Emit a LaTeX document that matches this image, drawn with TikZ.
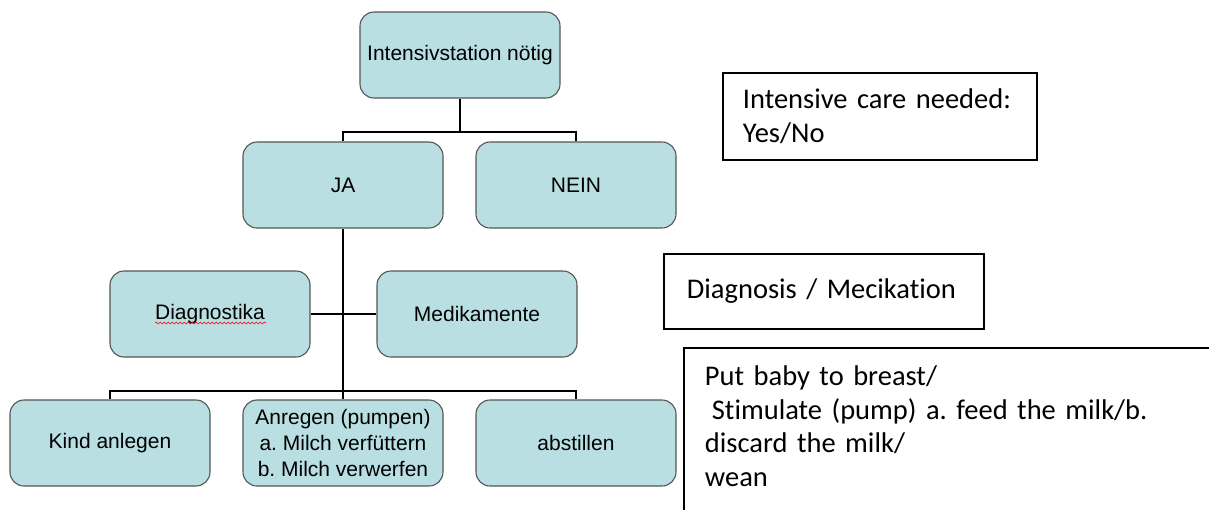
\documentclass[tikz,border=0pt]{standalone}
\usepackage{fontspec}
\setmainfont{Liberation Sans}
\newfontfamily\notefont[Ligatures=NoCommon]{Carlito}
\usepackage{tikz}
\usetikzlibrary{decorations.pathmorphing}
\definecolor{boxfill}{RGB}{185,223,226}
\definecolor{boxline}{RGB}{85,85,85}
\frenchspacing
\tikzset{
  treenode/.style = {shape=rectangle, rounded corners=14pt,
                     draw=boxline, line width=1.1pt, fill=boxfill,
                     minimum width=200pt, minimum height=86pt,
                     align=center, inner sep=2pt,
                     font=\fontsize{21}{26}\selectfont},
  notebox/.style = {shape=rectangle, draw=black, line width=1.8pt,
                    anchor=north west, align=left,
                    font=\notefont\fontsize{28.5}{33.5}\selectfont},
  link/.style = {line width=2.6pt, black},
  squiggle/.style = {red, line width=0.6pt, decorate,
                     decoration={snake, amplitude=1pt, segment length=4pt}}
}
\begin{document}
\begin{tikzpicture}[x=1pt, y=-1pt]
            \useasboundingbox (0,0) rectangle (1209,509);
            \clip (0,0) rectangle (1209,509);

            % tree
            \node (need) [treenode] at (460,55) {Intensivstation nötig};
            \node (ja) [treenode] at (343,185) {JA};
            \node (nein) [treenode] at (576,185) {NEIN};
            \node (diag) [treenode] at (210,314) {Diagnostika};
            \node (med) [treenode] at (477,314) {Medikamente};
            \node (kind) [treenode] at (110,443) {Kind anlegen};
            \node (pump) [treenode] at (343,443) {Anregen (pumpen)\\a. Milch verfüttern\\b. Milch verwerfen};
            \node (wean) [treenode] at (576,443) {abstillen};

            \coordinate (fork1) at (460,132);
            \coordinate (fork2) at (343,391);

            \draw [link] (need.south) -- (fork1);
            \draw [link] (ja.north) |- (fork1) -| (nein.north);
            \draw [link] (ja.south) -- (fork2);
            \draw [link] (diag.east) -- (med.west);
            \draw [link] (kind.north) |- (fork2) -| (wean.north);
            \draw [link] (pump.north) -- (fork2);

            \draw [squiggle] (155,323) -- (266,323);

            % translations
            \node (yesno) [notebox, text width=274pt, inner xsep=20pt, minimum height=87pt] at (722,72) {\mbox{Intensive care needed:}\\Yes/No};
            \node (diagmed) [notebox, text width=274pt, inner xsep=23pt, minimum height=75pt] at (663,253) {\mbox{Diagnosis / Mecikation}};
            \node (steps) [notebox, text width=560pt, inner xsep=21pt, inner ysep=18pt, text depth=175pt] at (683,347) {Put baby to breast/\\\hspace*{7pt}Stimulate (pump) a. feed the milk/b.\\discard the milk/\\wean};
        \end{tikzpicture}
\end{document}
